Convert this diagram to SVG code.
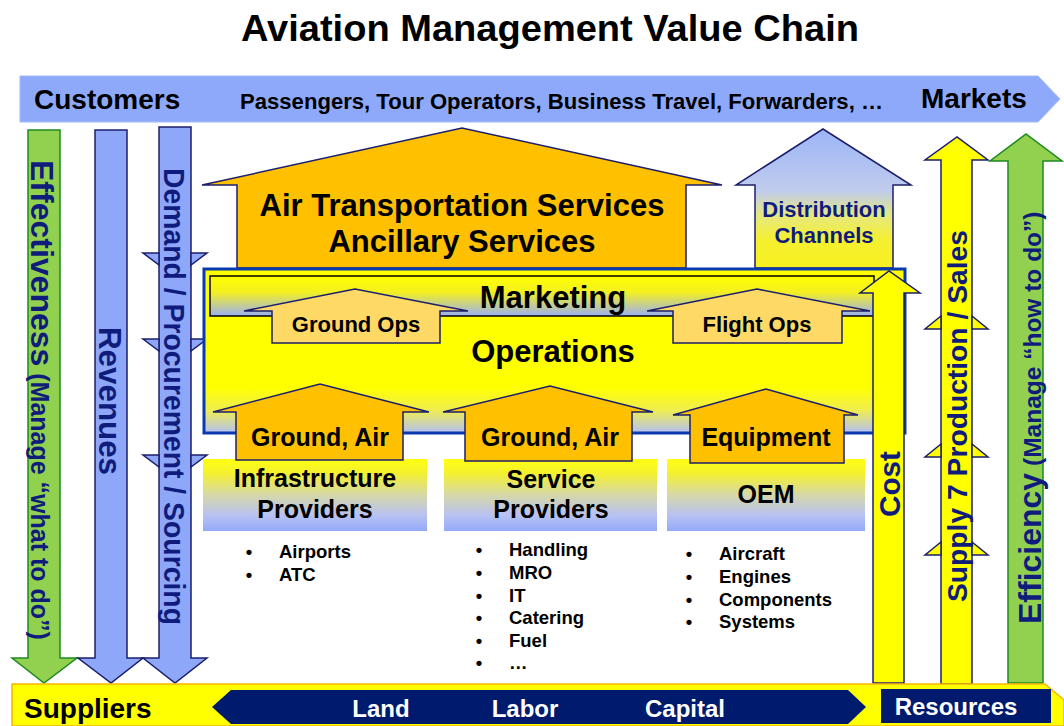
<svg xmlns="http://www.w3.org/2000/svg" width="1064" height="726" viewBox="0 0 1064 726">
<defs>
<linearGradient id="opsGrad" x1="0" y1="0" x2="0" y2="1">
<stop offset="0" stop-color="#FFFF00"/><stop offset="0.72" stop-color="#FFFF00"/><stop offset="0.86" stop-color="#F0EE50"/><stop offset="1" stop-color="#B4C0F4"/>
</linearGradient>
<linearGradient id="mktGrad" x1="0" y1="0" x2="0" y2="1">
<stop offset="0" stop-color="#FFFF00"/><stop offset="0.4" stop-color="#F4F020"/><stop offset="1" stop-color="#9CB0F4"/>
</linearGradient>
<linearGradient id="provGrad" x1="0" y1="0" x2="0" y2="1">
<stop offset="0" stop-color="#FFFF10"/><stop offset="0.2" stop-color="#F4F030"/><stop offset="0.5" stop-color="#D6D8A8"/><stop offset="0.78" stop-color="#B8C2F2"/><stop offset="1" stop-color="#94AAFA"/>
</linearGradient>
<linearGradient id="distGrad" x1="0" y1="0" x2="0" y2="1">
<stop offset="0" stop-color="#9DB5F8"/><stop offset="0.45" stop-color="#C0CCEC"/><stop offset="0.62" stop-color="#E6E880"/><stop offset="0.8" stop-color="#F5F030"/><stop offset="1" stop-color="#F8F020"/>
</linearGradient>
</defs>
<style>
text{font-family:"Liberation Sans",Arial,sans-serif;font-weight:bold;}
.blk{fill:#000;}
.nav{fill:#101C7C;}
.wht{fill:#FFFFFF;}
.mid{text-anchor:middle;}
.blue{fill:#8EA7F8;stroke:#1B1F6B;stroke-width:1.5;}
.green{fill:#92D050;stroke:#1E8A1E;stroke-width:1.5;}
.yel{fill:#FFFF00;stroke:#1B1F6B;stroke-width:1.5;}
.orng{fill:#FFC000;stroke:#1B1F6B;stroke-width:1.5;}
.lorng{fill:#FFD966;stroke:#1B1F6B;stroke-width:1.5;}
.prov{fill:url(#provGrad);}
.bul{font-size:18.5px;fill:#000;}
</style>
<rect width="1064" height="726" fill="#FFFFFF"/>

<g id="title"><text x="550" y="41" class="blk mid" font-size="37" textLength="618" lengthAdjust="spacingAndGlyphs">Aviation Management Value Chain</text></g>

<g id="customers-bar">
<polygon points="20,76 1038,76 1060,99 1038,122 20,122" fill="#8EA9FA" stroke="#A4BAFA" stroke-width="1"/>
<text x="34" y="109" class="blk" font-size="28">Customers</text>
<text x="240" y="109" class="blk" font-size="22" textLength="643" lengthAdjust="spacingAndGlyphs">Passengers, Tour Operators, Business Travel, Forwarders, …</text>
<text x="921" y="108" class="blk" font-size="28">Markets</text>
</g>

<g id="effectiveness">
<path class="green" d="M28,130 H60 V658 H77 L44,683 L12,658 H28 Z"/>
<text transform="translate(31,160) rotate(90)" class="nav"><tspan font-size="32">Effectiveness</tspan><tspan font-size="25"> (Manage “what to do”)</tspan></text>
</g>

<g id="revenues">
<path class="blue" d="M95,130 H127 V658 H143 L111,683 L78,658 H95 Z"/>
<text transform="translate(99,327) rotate(90)" class="nav" font-size="31" textLength="148" lengthAdjust="spacingAndGlyphs">Revenues</text>
</g>

<g id="demand">
<path class="blue" d="M159,127 H191 V658 H207 L175,683 L143,658 H159 Z"/>
<polygon class="blue" points="143,253 159,253 159,265"/>
<polygon class="blue" points="207,253 191,253 191,265"/>
<polygon class="blue" points="143,339 159,339 159,351"/>
<polygon class="blue" points="207,339 191,339 191,351"/>
<polygon class="blue" points="143,455 159,455 159,467"/>
<polygon class="blue" points="207,455 191,455 191,467"/>
<text transform="translate(164,168) rotate(90)" class="nav" font-size="29" textLength="457" lengthAdjust="spacingAndGlyphs">Demand / Procurement / Sourcing</text>
</g>

<g id="air-transport">
<path class="orng" d="M237,268 V185 H202 L462,128 L722,185 H686 V268 Z"/>
<text x="462" y="216" class="blk mid" font-size="31">Air Transportation Services</text>
<text x="462" y="252" class="blk mid" font-size="31">Ancillary Services</text>
</g>

<g id="distribution">
<path d="M755,268 V185 H736 L823,129 L911,185 H893 V268 Z" fill="url(#distGrad)" stroke="#1B1F6B" stroke-width="1.5"/>
<text x="824" y="217" class="nav mid" font-size="22">Distribution</text>
<text x="824" y="243" class="nav mid" font-size="22">Channels</text>
</g>

<g id="operations">
<rect x="204" y="269" width="701" height="164" fill="url(#opsGrad)" stroke="#0A3AB0" stroke-width="3"/>
<text x="553" y="362" class="blk mid" font-size="31">Operations</text>
</g>

<g id="marketing">
<rect x="210" y="276" width="664" height="40" fill="url(#mktGrad)" stroke="#000" stroke-width="1.5"/>
<text x="553" y="308" class="blk mid" font-size="31">Marketing</text>
</g>

<g id="ground-ops">
<path class="lorng" d="M272,343 V311 H244 L355,289 L468,311 H440 V343 Z"/>
<text x="356" y="332" class="blk mid" font-size="22">Ground Ops</text>
</g>

<g id="flight-ops">
<path class="lorng" d="M673,343 V311 H647 L757,289 L870,311 H842 V343 Z"/>
<text x="757" y="332" class="blk mid" font-size="22">Flight Ops</text>
</g>

<g id="infrastructure-providers">
<rect class="prov" x="203" y="459" width="224" height="72"/>
<text x="315" y="487" class="blk mid" font-size="25">Infrastructure</text>
<text x="315" y="518" class="blk mid" font-size="25">Providers</text>
<text x="249" y="558" class="bul mid">•</text><text x="279" y="558" class="bul">Airports</text>
<text x="249" y="581" class="bul mid">•</text><text x="279" y="581" class="bul">ATC</text>
</g>

<g id="service-providers">
<rect class="prov" x="444" y="459" width="213" height="72"/>
<text x="551" y="488" class="blk mid" font-size="25">Service</text>
<text x="551" y="518" class="blk mid" font-size="25">Providers</text>
<text x="479" y="556" class="bul mid">•</text><text x="509" y="556" class="bul">Handling</text>
<text x="479" y="579" class="bul mid">•</text><text x="509" y="579" class="bul">MRO</text>
<text x="479" y="602" class="bul mid">•</text><text x="509" y="602" class="bul">IT</text>
<text x="479" y="624" class="bul mid">•</text><text x="509" y="624" class="bul">Catering</text>
<text x="479" y="647" class="bul mid">•</text><text x="509" y="647" class="bul">Fuel</text>
<text x="479" y="669" class="bul mid">•</text><text x="509" y="669" class="bul">…</text>
</g>

<g id="oem">
<rect class="prov" x="667" y="459" width="198" height="72"/>
<text x="766" y="503" class="blk mid" font-size="25">OEM</text>
<text x="689" y="560" class="bul mid">•</text><text x="719" y="560" class="bul">Aircraft</text>
<text x="689" y="583" class="bul mid">•</text><text x="719" y="583" class="bul">Engines</text>
<text x="689" y="606" class="bul mid">•</text><text x="719" y="606" class="bul">Components</text>
<text x="689" y="628" class="bul mid">•</text><text x="719" y="628" class="bul">Systems</text>
</g>

<g id="ground-air-1">
<path class="orng" d="M236,460 V412 H213 L320,384 L429,412 H403 V460 Z"/>
<text x="320" y="446" class="blk mid" font-size="25">Ground, Air</text>
</g>

<g id="ground-air-2">
<path class="orng" d="M465,461 V412 H443 L550,386 L653,412 H632 V461 Z"/>
<text x="550" y="446" class="blk mid" font-size="25">Ground, Air</text>
</g>

<g id="equipment">
<path class="orng" d="M690,463 V415 H673 L766,389 L858,415 H844 V463 Z"/>
<text x="766" y="446" class="blk mid" font-size="25">Equipment</text>
</g>

<g id="cost">
<path class="yel" d="M873,683 V293 H860 L889,271 L920,293 H904 V683 Z"/>
<text transform="translate(900,517) rotate(-90)" class="nav" font-size="30" textLength="66" lengthAdjust="spacingAndGlyphs">Cost</text>
</g>

<g id="supply">
<path class="yel" d="M941,684 V160 H925 L957,137 L988,160 H972 V684 Z"/>
<polygon class="yel" points="925,329 941,329 941,316"/>
<polygon class="yel" points="988,329 972,329 972,316"/>
<polygon class="yel" points="925,457 941,457 941,444"/>
<polygon class="yel" points="988,457 972,457 972,444"/>
<polygon class="yel" points="925,555 941,555 941,542"/>
<polygon class="yel" points="988,555 972,555 972,542"/>
<text transform="translate(967,602) rotate(-90)" class="nav" font-size="28.5" textLength="372" lengthAdjust="spacingAndGlyphs">Supply 7 Production / Sales</text>
</g>

<g id="efficiency">
<path class="green" d="M1008,683 V161 H990 L1026,134 L1062,161 H1043 V683 Z"/>
<text transform="translate(1041,624) rotate(-90)" class="nav"><tspan font-size="32">Efficiency</tspan><tspan font-size="24.5"> (Manage “how to do”)</tspan></text>
</g>

<g id="suppliers-bar">
<polygon points="12,684 1045,684 1064,700 1064,726 12,726" fill="#FFFF00" stroke="#F5B800" stroke-width="1.5"/>
<text x="24" y="718" class="blk" font-size="28">Suppliers</text>
</g>

<g id="land-labor-capital">
<polygon points="212,707 231,690 848,690 866,707 848,724 231,724" fill="#001A6E"/>
<text x="381" y="717" class="wht mid" font-size="24">Land</text>
<text x="525" y="717" class="wht mid" font-size="24">Labor</text>
<text x="685" y="717" class="wht mid" font-size="24">Capital</text>
</g>

<g id="resources">
<rect x="881" y="689" width="170" height="34" fill="#001A6E"/>
<text x="956" y="715" class="wht mid" font-size="24">Resources</text>
</g>

<g id="connectors"></g>
</svg>
